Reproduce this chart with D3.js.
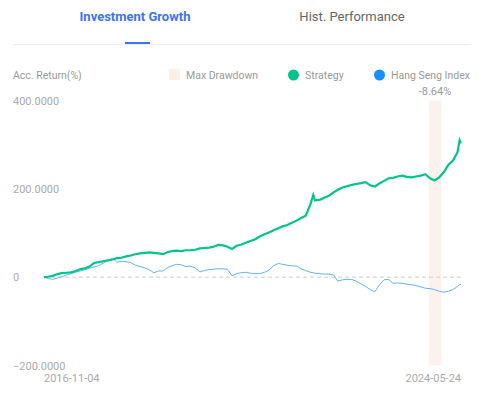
<!DOCTYPE html>
<html>
<head>
<meta charset="utf-8">
<script src="https://cdn.jsdelivr.net/npm/d3@7"></script>
<style>
  body { margin: 0; background: #fff; }
  svg { display: block; font-family: Roboto, "Noto Sans", sans-serif; }
</style>
</head>
<body>
<div id="chart"></div>
<script>
const dates = [
  "2016-11-04", "2016-12-01",
  "2017-01-01", "2017-02-01", "2017-03-01", "2017-04-01", "2017-05-01", "2017-06-01",
  "2017-07-01", "2017-08-01", "2017-09-01", "2017-10-01", "2017-11-01", "2017-12-01",
  "2018-01-01", "2018-02-01", "2018-03-01", "2018-04-01", "2018-05-01", "2018-06-01",
  "2018-07-01", "2018-08-01", "2018-09-01", "2018-10-01", "2018-11-01", "2018-12-01",
  "2019-01-01", "2019-02-01", "2019-03-01", "2019-04-01", "2019-05-01", "2019-06-01",
  "2019-07-01", "2019-08-01", "2019-09-01", "2019-10-01", "2019-11-01", "2019-12-01",
  "2020-01-01", "2020-02-01", "2020-03-01", "2020-04-01", "2020-05-01", "2020-06-01",
  "2020-07-01", "2020-08-01", "2020-09-01", "2020-10-01", "2020-11-01", "2020-12-01",
  "2021-01-01", "2021-02-01", "2021-03-01", "2021-04-01", "2021-05-01", "2021-06-01",
  "2021-07-01", "2021-08-01", "2021-09-01", "2021-09-20", "2021-10-01", "2021-11-01", "2021-12-01",
  "2022-01-01", "2022-02-01", "2022-03-01", "2022-04-01", "2022-05-01", "2022-06-01",
  "2022-07-01", "2022-08-01", "2022-09-01", "2022-10-01", "2022-11-01", "2022-12-01",
  "2023-01-01", "2023-02-01", "2023-03-01", "2023-04-01", "2023-05-01", "2023-06-01",
  "2023-07-01", "2023-08-01", "2023-09-01", "2023-10-01", "2023-11-01", "2023-12-01",
  "2024-01-01", "2024-02-01", "2024-03-01", "2024-04-01", "2024-05-01", "2024-05-15", "2024-05-24"
];

const strategy = [
  0, 1,
  3, 7, 9, 10, 11, 14,
  18, 20, 24, 32, 34, 36,
  38, 40, 43, 44, 47, 49,
  52, 54, 55, 56, 55, 54,
  52, 57, 59, 60, 59, 61,
  61, 62, 65, 66, 67, 69,
  73, 72, 69, 64, 71, 74,
  78, 82, 86, 92, 97, 101,
  106, 111, 115, 118, 123, 128,
  134, 139, 165, 186, 174, 175, 180,
  184, 192, 198, 203, 206, 209,
  211, 213, 215, 208, 205, 212,
  218, 224, 225, 228, 230, 227,
  226, 228, 230, 233, 224, 219,
  226, 238, 254, 264, 283, 310, 303
];

const hsi = [
  0, -3,
  -5, -2, 1, 5, 8, 11,
  14, 17, 20, 23, 26, 32,
  38, 43, 34, 36, 35, 33,
  27, 24, 21, 17, 10, 14,
  14, 22, 26, 29, 28, 24,
  25, 21, 12, 15, 17, 18,
  19, 19, 18, 3, 8, 10,
  11, 9, 8, 8, 11, 16,
  26, 31, 29, 27, 26, 25,
  19, 15, 11, 10, 9, 8, 7,
  7, 5, -9, -6, -5, -5,
  -9, -15, -21, -28, -33, -18,
  -6, -5, -14, -13, -14, -16,
  -17, -19, -22, -25, -26, -28,
  -32, -34, -32, -28, -21, -17, -16
];

const drawdown = ["2023-10-25", "2024-01-13"];
const drawdownLabel = "-8.64%";
const yTicks = [400, 200, 0, -200];
const xLabels = ["2016-11-04", "2024-05-24"];
const tabs = ["Investment Growth", "Hist. Performance"];
const legendItems = ["Max Drawdown", "Strategy", "Hang Seng Index"];

const width = 483, height = 397;
const parse = d3.timeParse("%Y-%m-%d");

const svg = d3.select("#chart").append("svg")
  .attr("width", width)
  .attr("height", height);

// tabs
svg.append("text").attr("x", 135).attr("y", 21).attr("text-anchor", "middle")
  .attr("font-size", 13).attr("font-weight", "bold").attr("fill", "#3d73f5")
  .text(tabs[0]);
svg.append("text").attr("x", 352).attr("y", 21).attr("text-anchor", "middle")
  .attr("font-size", 13).attr("fill", "#666")
  .text(tabs[1]);
svg.append("line").attr("x1", 13).attr("x2", 470).attr("y1", 44.5).attr("y2", 44.5)
  .attr("stroke", "#eeeeee");
svg.append("rect").attr("x", 125).attr("y", 42).attr("width", 25).attr("height", 2)
  .attr("fill", "#3d73f5");

// legend
svg.append("text").attr("x", 13).attr("y", 79).attr("font-size", 10.5).attr("fill", "#999")
  .text("Acc. Return(%)");
const legend = [
  { name: legendItems[0], x: 169, color: "#fdeee8", shape: "rect" },
  { name: legendItems[1], x: 288, color: "#00c58a", shape: "circle" },
  { name: legendItems[2], x: 374, color: "#1890ff", shape: "circle" }
];
legend.forEach(l => {
  if (l.shape === "rect") {
    svg.append("rect").attr("x", l.x).attr("y", 69).attr("width", 11).attr("height", 11).attr("fill", l.color);
  } else {
    svg.append("circle").attr("cx", l.x + 5.5).attr("cy", 75).attr("r", 5.5).attr("fill", l.color);
  }
  svg.append("text").attr("x", l.x + 17).attr("y", 79).attr("font-size", 10.5).attr("fill", "#999").text(l.name);
});

const x = d3.scaleTime()
  .domain([parse(dates[0]), parse(dates[dates.length - 1])])
  .range([44, 461]);

const y = d3.scaleLinear()
  .domain([-200, 400])
  .range([365.5, 100.5]);

// max drawdown band
svg.append("rect")
  .attr("x", x(parse(drawdown[0])))
  .attr("y", y(400))
  .attr("width", x(parse(drawdown[1])) - x(parse(drawdown[0])))
  .attr("height", y(-200) - y(400))
  .attr("fill", "#fdeee8")
  .attr("opacity", 0.8);
svg.append("text")
  .attr("x", (x(parse(drawdown[0])) + x(parse(drawdown[1]))) / 2)
  .attr("y", 95)
  .attr("text-anchor", "middle")
  .attr("font-size", 11).attr("fill", "#999")
  .text(drawdownLabel);

// y labels
svg.selectAll(".ylab").data(yTicks).enter().append("text")
  .attr("x", 13).attr("y", d => y(d) + 4)
  .attr("font-size", 11).attr("fill", "#aaa")
  .text(d => d === 0 ? "0" : d3.format(".4f")(d));

// zero line
svg.append("line")
  .attr("x1", x.range()[0]).attr("x2", x.range()[1])
  .attr("y1", y(0)).attr("y2", y(0))
  .attr("stroke", "#ccc").attr("stroke-dasharray", "4,3");

// x labels
svg.append("text").attr("x", x(parse(xLabels[0]))).attr("y", 382)
  .attr("font-size", 11).attr("fill", "#aaa").text(xLabels[0]);
svg.append("text").attr("x", x(parse(xLabels[1]))).attr("y", 382).attr("text-anchor", "end")
  .attr("font-size", 11).attr("fill", "#aaa").text(xLabels[1]);

const line = d3.line()
  .x(d => x(d.date))
  .y(d => y(d.value));

const hsiData = dates.map((d, i) => ({ date: parse(d), value: hsi[i] }));
const stratData = dates.map((d, i) => ({ date: parse(d), value: strategy[i] }));

svg.append("path").datum(hsiData)
  .attr("d", line)
  .attr("fill", "none")
  .attr("stroke", "#62b1fd")
  .attr("stroke-width", 1);

svg.append("path").datum(stratData)
  .attr("d", line)
  .attr("fill", "none")
  .attr("stroke", "#00c58a")
  .attr("stroke-width", 2.2);
</script>
</body>
</html>
